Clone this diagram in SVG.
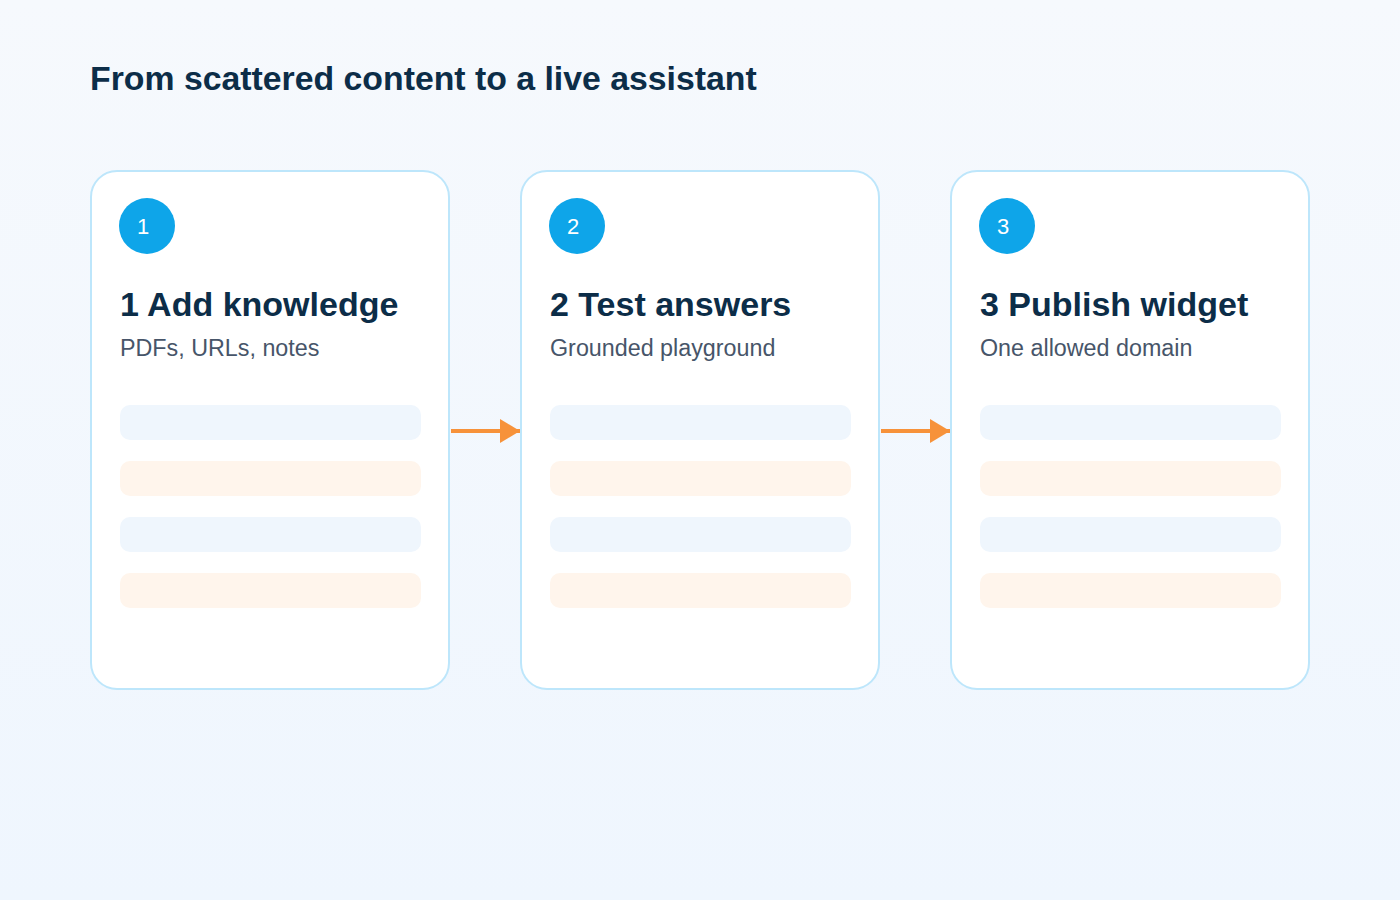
<svg xmlns="http://www.w3.org/2000/svg" width="1400" height="900" viewBox="0 0 1400 900">
<defs>
<linearGradient id="bg" x1="0" y1="0" x2="0" y2="1"><stop offset="0" stop-color="#f6f9fd"/><stop offset="1" stop-color="#eff6fe"/></linearGradient>
<marker id="ah" markerWidth="5" markerHeight="6" refX="5" refY="3" orient="auto" markerUnits="strokeWidth"><path d="M0,0 L5,3 L0,6 Z" fill="#f7923a"/></marker>
</defs>
<style>
.card{fill:#fff;stroke:#bde6fb;stroke-width:2}
.num{fill:#0ea5e9}
.nt{font-family:"Liberation Sans",Arial,sans-serif;font-size:22px;fill:#fff;text-anchor:middle}
.title{font-family:"Liberation Sans",Arial,sans-serif;font-size:34px;font-weight:bold;fill:#0c2d48}
.sub{font-family:"Liberation Sans",Arial,sans-serif;font-size:23.3px;fill:#475569}
.b1{fill:#eff6fd}.b2{fill:#fff5ec}
.conn{stroke:#f7923a;stroke-width:4;fill:none}
</style>
<rect width="1400" height="900" fill="url(#bg)"/>
<text x="90" y="90" font-family="Liberation Sans,Arial,sans-serif" font-size="33.8" font-weight="bold" fill="#0c2d48">From scattered content to a live assistant</text>
<g id="step1">
<rect class="card" x="91" y="171" width="358" height="518" rx="26"/>
<circle class="num" cx="147" cy="226" r="28"/><text class="nt" x="143" y="234">1</text>
<text class="title" x="120" y="316">1 Add knowledge</text>
<text class="sub" x="120" y="356">PDFs, URLs, notes</text>
<rect class="b1" x="120" y="405" width="301" height="35" rx="10"/>
<rect class="b2" x="120" y="461" width="301" height="35" rx="10"/>
<rect class="b1" x="120" y="517" width="301" height="35" rx="10"/>
<rect class="b2" x="120" y="573" width="301" height="35" rx="10"/>
</g>
<g id="step2">
<rect class="card" x="521" y="171" width="358" height="518" rx="26"/>
<circle class="num" cx="577" cy="226" r="28"/><text class="nt" x="573" y="234">2</text>
<text class="title" x="550" y="316">2 Test answers</text>
<text class="sub" x="550" y="356">Grounded playground</text>
<rect class="b1" x="550" y="405" width="301" height="35" rx="10"/>
<rect class="b2" x="550" y="461" width="301" height="35" rx="10"/>
<rect class="b1" x="550" y="517" width="301" height="35" rx="10"/>
<rect class="b2" x="550" y="573" width="301" height="35" rx="10"/>
</g>
<g id="step3">
<rect class="card" x="951" y="171" width="358" height="518" rx="26"/>
<circle class="num" cx="1007" cy="226" r="28"/><text class="nt" x="1003" y="234">3</text>
<text class="title" x="980" y="316">3 Publish widget</text>
<text class="sub" x="980" y="356">One allowed domain</text>
<rect class="b1" x="980" y="405" width="301" height="35" rx="10"/>
<rect class="b2" x="980" y="461" width="301" height="35" rx="10"/>
<rect class="b1" x="980" y="517" width="301" height="35" rx="10"/>
<rect class="b2" x="980" y="573" width="301" height="35" rx="10"/>
</g>
<g id="connectors">
<line class="conn" x1="451" y1="431" x2="520" y2="431" marker-end="url(#ah)"/>
<line class="conn" x1="881" y1="431" x2="950" y2="431" marker-end="url(#ah)"/>
</g>
</svg>
